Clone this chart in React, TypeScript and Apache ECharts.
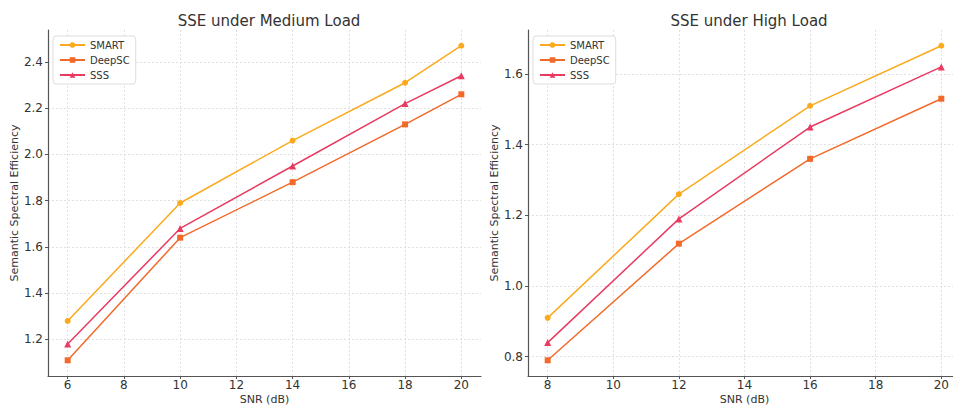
import React, { useEffect, useRef } from "react";
import * as echarts from "echarts";

const seriesNames = ["SMART", "DeepSC", "SSS"];
const colors = ["#FBAA1E", "#F26A2A", "#E93A62"];
const symbols = ["circle", "rect", "triangle"];

const medX = [6, 10, 14, 18, 20];
const medSmart = [1.28, 1.79, 2.06, 2.31, 2.47];
const medDeepSC = [1.11, 1.64, 1.88, 2.13, 2.26];
const medSSS = [1.18, 1.68, 1.95, 2.22, 2.34];

const highX = [8, 12, 16, 20];
const highSmart = [0.91, 1.26, 1.51, 1.68];
const highDeepSC = [0.79, 1.12, 1.36, 1.53];
const highSSS = [0.84, 1.19, 1.45, 1.62];

const medXTicks = [6, 8, 10, 12, 14, 16, 18, 20];
const medYTicks = [1.2, 1.4, 1.6, 1.8, 2.0, 2.2, 2.4];
const highXTicks = [8, 10, 12, 14, 16, 18, 20];
const highYTicks = [0.8, 1.0, 1.2, 1.4, 1.6];

const FONT = "DejaVu Sans";

function xAxisCfg(gridIndex: number, min: number, max: number, ticks: number[]) {
  return {
    type: "value",
    gridIndex,
    min,
    max,
    name: "SNR (dB)",
    nameLocation: "middle",
    nameGap: 17,
    nameMoveOverlap: false,
    nameTextStyle: { fontFamily: FONT, fontSize: 11, color: "#333", lineHeight: 12 },
    axisLine: { show: true, onZero: false, lineStyle: { color: "#555", width: 1.2 } },
    axisTick: { show: true, length: 3, customValues: ticks, lineStyle: { color: "#555" } },
    axisLabel: {
      customValues: ticks,
      fontFamily: FONT,
      fontSize: 12,
      color: "#333",
      margin: 3,
      lineHeight: 12,
      formatter: (v: number) => String(v),
    },
    splitLine: { show: true, lineStyle: { color: "#d9d9d9", type: [2, 2], width: 0.8 } },
  };
}

function yAxisCfg(gridIndex: number, min: number, max: number, ticks: number[]) {
  return {
    type: "value",
    gridIndex,
    min,
    max,
    name: "Semantic Spectral Efficiency",
    nameLocation: "middle",
    nameGap: 28,
    nameTextStyle: { fontFamily: FONT, fontSize: 11, color: "#333" },
    axisLine: { show: true, onZero: false, lineStyle: { color: "#555", width: 1.2 } },
    axisTick: { show: true, length: 3, customValues: ticks, lineStyle: { color: "#555" } },
    axisLabel: {
      customValues: ticks,
      fontFamily: FONT,
      fontSize: 12,
      color: "#333",
      margin: 5,
      formatter: (v: number) => v.toFixed(1),
    },
    splitLine: { show: true, lineStyle: { color: "#d9d9d9", type: [2, 2], width: 0.8 } },
  };
}

function mkSeries(idx: number, xs: number[], ys: number[], axisIdx: number) {
  return {
    type: "line",
    name: seriesNames[idx],
    xAxisIndex: axisIdx,
    yAxisIndex: axisIdx,
    data: xs.map((x, i) => [x, ys[i]]),
    symbol: symbols[idx],
    symbolSize: idx === 2 ? 7 : 6,
    showSymbol: true,
    lineStyle: { color: colors[idx], width: 1.5 },
    itemStyle: { color: colors[idx] },
    z: 3,
  };
}

function legendCfg(left: number) {
  return {
    left,
    top: 36,
    orient: "vertical",
    data: seriesNames,
    itemWidth: 25,
    itemHeight: 7,
    itemGap: 5,
    padding: [4, 6, 4, 6],
    borderColor: "#dddddd",
    borderWidth: 1,
    borderRadius: 3,
    backgroundColor: "#ffffff",
    textStyle: { fontFamily: FONT, fontSize: 10, color: "#333" },
  };
}

export default function App() {
  const ref = useRef<HTMLDivElement>(null);
  useEffect(() => {
    document.body.style.margin = "0";
    const chart = echarts.init(ref.current!, null, { renderer: "svg" });
    chart.setOption({
      animation: false,
      backgroundColor: "#ffffff",
      title: [
        {
          text: "SSE under Medium Load",
          left: 264,
          top: 8,
          textAlign: "center",
          textStyle: { fontFamily: FONT, fontSize: 15, fontWeight: "normal", color: "#333" },
        },
        {
          text: "SSE under High Load",
          left: 744,
          top: 8,
          textAlign: "center",
          textStyle: { fontFamily: FONT, fontSize: 15, fontWeight: "normal", color: "#333" },
        },
      ],
      legend: [legendCfg(53), legendCfg(533)],
      grid: [
        { left: 48, top: 30, width: 433, height: 346, outerBoundsMode: "none" },
        { left: 528, top: 30, width: 433, height: 346, outerBoundsMode: "none" },
      ],
      xAxis: [xAxisCfg(0, 5.3, 20.7, medXTicks), xAxisCfg(1, 7.4, 20.6, highXTicks)],
      yAxis: [yAxisCfg(0, 1.042, 2.538, medYTicks), yAxisCfg(1, 0.7455, 1.7245, highYTicks)],
      series: [
        mkSeries(0, medX, medSmart, 0),
        mkSeries(1, medX, medDeepSC, 0),
        mkSeries(2, medX, medSSS, 0),
        mkSeries(0, highX, highSmart, 1),
        mkSeries(1, highX, highDeepSC, 1),
        mkSeries(2, highX, highSSS, 1),
      ],
    });
    return () => chart.dispose();
  }, []);
  return <div ref={ref} style={{ width: 953, height: 406 }} />;
}
